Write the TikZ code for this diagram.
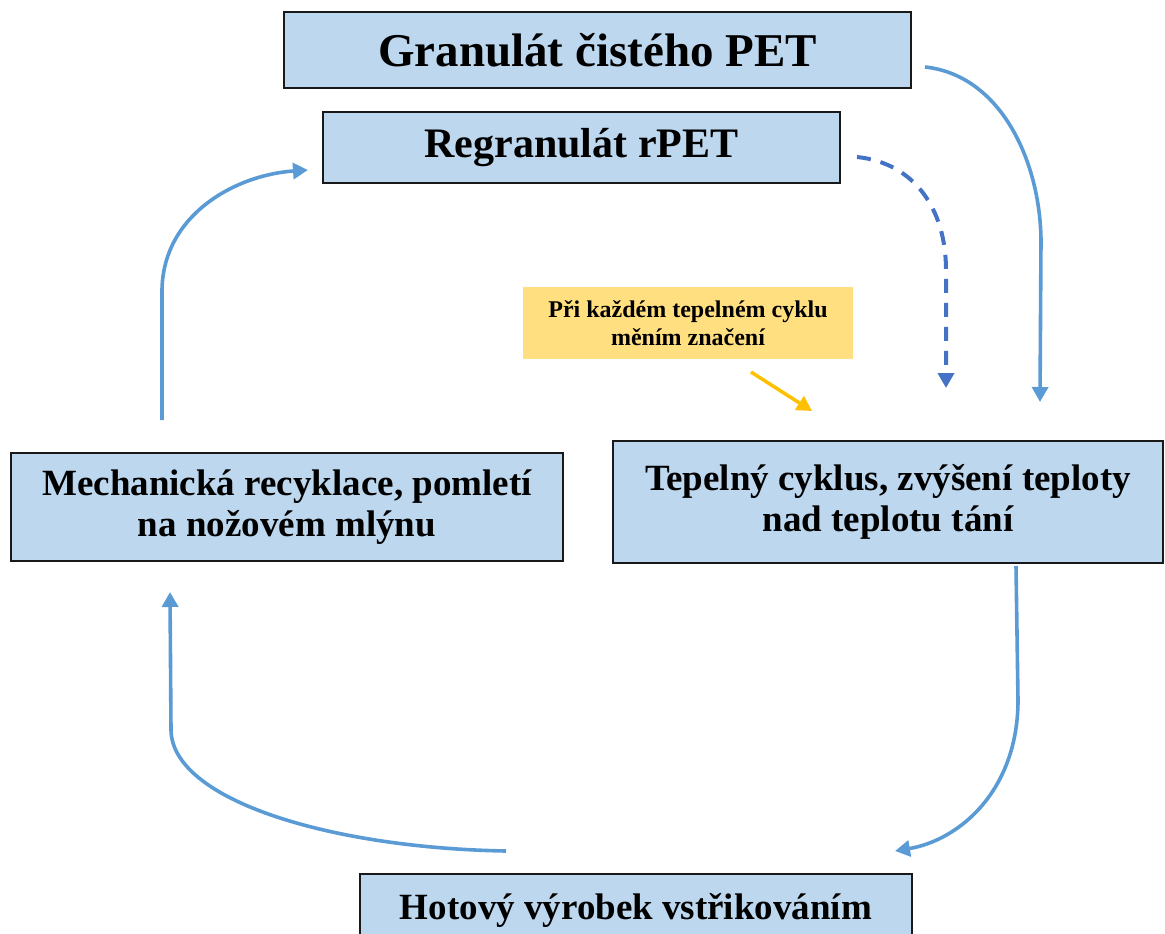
\documentclass[tikz,border=0pt]{standalone}
\usepackage{fontspec}
\setmainfont{Liberation Serif}
\usetikzlibrary{arrows.meta}
\definecolor{boxblue}{HTML}{BDD7EE}
\definecolor{flowblue}{HTML}{5B9BD5}
\definecolor{dashblue}{HTML}{4472C4}
\definecolor{notegold}{HTML}{FFDF80}
\definecolor{pointergold}{HTML}{FFC000}
\begin{document}
\begin{tikzpicture}[x=1pt,y=-1pt,
  stage/.style={draw=black!90, line width=1.6pt, fill=boxblue, inner sep=0pt,
    align=center, font=\bfseries},
  note/.style={fill=notegold, inner sep=0pt, align=center,
    font=\bfseries\fontsize{24}{28}\selectfont},
  flow/.style={draw=flowblue, line width=3.6pt,
    -{Triangle[length=15pt,width=16pt]}},
  dashflow/.style={draw=dashblue, line width=4pt, dash pattern=on 14pt off 10pt,
    -{Triangle[length=15pt,width=16pt]}},
  pointer/.style={draw=pointergold, line width=3.5pt,
    -{Triangle[length=15pt,width=16pt]}}]
\useasboundingbox (0,0) rectangle (1165,934);
\clip (0,0) rectangle (1165,934);

% process boxes
\node[stage, minimum width=627pt, minimum height=76pt,
  font=\bfseries\fontsize{47}{52}\selectfont] (virgin) at (597.5,50) {Granulát čistého PET};
\node[stage, minimum width=517pt, minimum height=71pt,
  font=\bfseries\fontsize{42}{46}\selectfont] (regran) at (581.5,147.5) {Regranulát rPET};
\node[note, minimum width=330pt, minimum height=72pt] (remark) at (688,323)
  {Při každém tepelném cyklu\\měním značení};
\node[stage, minimum width=552pt, minimum height=108pt,
  font=\bfseries\fontsize{37}{41}\selectfont] (grind) at (287,507)
  {Mechanická recyklace, pomletí\\na nožovém mlýnu};
\node[stage, minimum width=550pt, minimum height=122pt,
  font=\bfseries\fontsize{37}{41}\selectfont] (heat) at (888,502)
  {Tepelný cyklus, zvýšení teploty\\nad teplotu tání};
\node[stage, anchor=north, minimum width=552pt, text height=46pt, text depth=30pt,
  font=\bfseries\fontsize{37}{41}\selectfont] (product) at (636,873)
  {Hotový výrobek vstřikováním};

% free ends of the connectors
\coordinate (virgin-out) at (925,67);
\coordinate (virgin-in) at (1040,402);
\coordinate (regran-out) at (857,157);
\coordinate (regran-in) at (946,388);
\coordinate (remark-out) at (751,372);
\coordinate (remark-in) at (812,411);
\coordinate (heat-out) at (1016,566);
\coordinate (product-in) at (895,851);
\coordinate (product-out) at (506,851);
\coordinate (grind-in) at (170,592);
\coordinate (grind-out) at (162,420);
\coordinate (regran-back) at (308,170);

% connectors
\draw[flow] (virgin-out) .. controls (1000,75) and (1040,160) .. (1041,240) -- (virgin-in);
\draw[dashflow] (regran-out) .. controls (915,163) and (946,210) .. (946,270) -- (regran-in);
\draw[pointer] (remark-out) -- (remark-in);
\draw[flow] (heat-out) -- (1018,700) .. controls (1018,790) and (960,840) .. (product-in);
\draw[flow] (product-out) .. controls (330,848) and (172,800) .. (171,730) -- (grind-in);
\draw[flow] (grind-out) -- (162,290) .. controls (163,215) and (235,175) .. (regran-back);
\end{tikzpicture}
\end{document}
